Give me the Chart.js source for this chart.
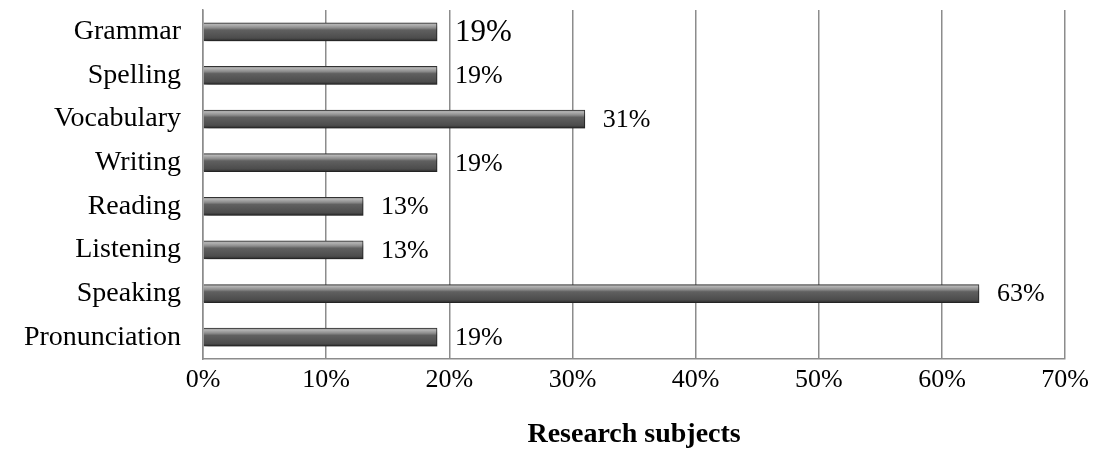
<!DOCTYPE html>
<html>
<head>
<meta charset="utf-8">
<script src="https://cdn.jsdelivr.net/npm/chart.js@4"></script>
<style>
    html, body { margin: 0; padding: 0; background: #fff; }
    #wrap { width: 1095px; height: 452px; }
</style>
</head>
<body>
<div id="wrap"><canvas id="skillsChart"></canvas></div>
<script>
const skills = ["Grammar", "Spelling", "Vocabulary", "Writing", "Reading", "Listening", "Speaking", "Pronunciation"];
const shares = [19, 19, 31, 19, 13, 13, 63, 19];
const xTicks = [0, 10, 20, 30, 40, 50, 60, 70];
const axisTitle = "Research subjects";

const serif = "'Liberation Serif', 'Times New Roman', serif";

// bevel-ish gradient per bar: light top band, dark body
function barFill(context) {
    const chart = context.chart;
    const y = chart.scales.y;
    if (!chart.chartArea || !y) return "#555";
    const cy = y.getPixelForValue(context.dataIndex);
    if (!Number.isFinite(cy)) return "#555";
    const g = chart.ctx.createLinearGradient(0, cy - 9, 0, cy + 9);
    g.addColorStop(0, "#8e8e8e");
    g.addColorStop(0.1, "#b4b4b4");
    g.addColorStop(0.28, "#8c8c8c");
    g.addColorStop(0.4, "#606060");
    g.addColorStop(0.85, "#4c4c4c");
    g.addColorStop(1, "#2a2a2a");
    return g;
}

const shadowPlugin = {
    id: "barShadow",
    beforeDatasetsDraw(chart) {
        const ctx = chart.ctx;
        ctx.save();
        ctx.shadowColor = "rgba(0,0,0,0.35)";
        ctx.shadowOffsetX = 3;
        ctx.shadowOffsetY = 3;
        ctx.shadowBlur = 4;
    },
    afterDatasetsDraw(chart) {
        chart.ctx.restore();
    }
};

const valueLabels = {
    id: "valueLabels",
    afterDatasetsDraw(chart) {
        const ctx = chart.ctx;
        const meta = chart.getDatasetMeta(0);
        ctx.save();
        ctx.fillStyle = "#000";
        ctx.textBaseline = "middle";
        ctx.textAlign = "left";
        meta.data.forEach((bar, i) => {
            const size = i === 0 ? 31 : 26;
            ctx.font = size + "px " + serif;
            ctx.fillText(shares[i] + "%", bar.x + 18, bar.y + 1);
        });
        ctx.restore();
    }
};

new Chart(document.getElementById("skillsChart"), {
    type: "bar",
    data: {
        labels: skills,
        datasets: [{
            data: shares,
            backgroundColor: barFill,
            borderColor: "#333",
            borderWidth: 1,
            barThickness: 18
        }]
    },
    plugins: [shadowPlugin, valueLabels],
    options: {
        indexAxis: "y",
        responsive: true,
        maintainAspectRatio: false,
        animation: false,
        layout: { padding: { top: 10, right: 26, left: 0, bottom: 0 } },
        plugins: {
            legend: { display: false },
            tooltip: { enabled: false }
        },
        scales: {
            x: {
                min: 0,
                max: 70,
                afterBuildTicks: s => { s.ticks = xTicks.map(v => ({ value: v })); },
                afterFit: s => { s.height = 93; },
                grid: { color: "#8c8c8c", lineWidth: 1.5, drawTicks: false },
                border: { color: "#8c8c8c", width: 1.5 },
                ticks: {
                    padding: 6,
                    color: "#000",
                    font: { family: serif, size: 26 },
                    callback: v => v + "%"
                },
                title: {
                    display: true,
                    text: axisTitle,
                    color: "#000",
                    font: { family: serif, size: 28, weight: "bold" },
                    padding: { top: 4, bottom: 0 }
                }
            },
            y: {
                afterFit: s => {
                    s.width = 203;
                    s.paddingTop = 0;
                    s.paddingBottom = 0;
                },
                grid: { display: false },
                border: { color: "#8c8c8c", width: 1.5 },
                ticks: {
                    padding: 14,
                    color: "#000",
                    font: { family: serif, size: 28 }
                }
            }
        }
    }
});
</script>
</body>
</html>
